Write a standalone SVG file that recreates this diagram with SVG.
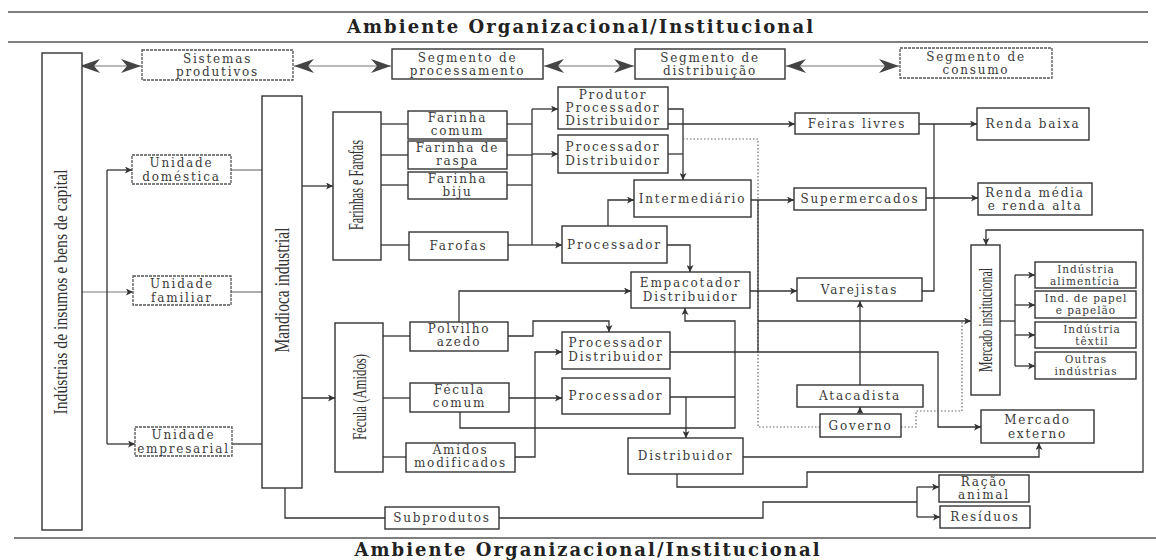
<svg xmlns="http://www.w3.org/2000/svg" width="1156" height="560" viewBox="0 0 1156 560">
  <style>
    .box { fill: #fff; stroke: #333; stroke-width: 1.4; }
    .dbox { fill: #fff; stroke: #555; stroke-width: 1.3; stroke-dasharray: 3 1; }
    .ln { fill: none; stroke: #333; stroke-width: 1.3; }
    .gl { fill: none; stroke: #777; stroke-width: 1.2; }
    .dot { fill: none; stroke: #666; stroke-width: 1.2; stroke-dasharray: 1.5 2; }
    .rule { stroke: #555; stroke-width: 1.6; }
    .t { font-family: "DejaVu Serif", serif; font-size: 12px; fill: #3a3a3a; text-anchor: middle; letter-spacing: 1.8px; }
    .s { font-family: "DejaVu Serif", serif; font-size: 10.5px; fill: #3a3a3a; text-anchor: middle; letter-spacing: 1px; }
    .v { font-family: "Liberation Serif", serif; fill: #333; text-anchor: middle; }
    .title { font-family: "DejaVu Serif", serif; font-weight: bold; font-size: 18px; fill: #222; text-anchor: middle; }
  </style>
  <defs>
    <marker id="a" viewBox="0 0 10 10" refX="10" refY="5" markerWidth="9" markerHeight="7" markerUnits="userSpaceOnUse" orient="auto">
      <path d="M0,0 L10,5 L0,10 L2.5,5 z" fill="#333"/>
    </marker>
    <marker id="big" viewBox="0 0 20 14" refX="20" refY="7" markerWidth="20" markerHeight="14" markerUnits="userSpaceOnUse" orient="auto-start-reverse">
      <path d="M0,0 L20,7 L0,14 L6,7 z" fill="#444"/>
    </marker>
  </defs>

  <!-- environment bands -->
  <g id="ambiente-topo">
    <line class="rule" x1="8" y1="12" x2="1148" y2="12"/>
    <text class="title" x="580" y="33" textLength="466" lengthAdjust="spacing">Ambiente Organizacional/Institucional</text>
    <line class="rule" x1="8" y1="42" x2="1148" y2="42"/>
  </g>
  <g id="ambiente-base">
    <line class="rule" x1="14" y1="538" x2="1156" y2="538"/>
    <text class="title" x="587" y="556" textLength="465" lengthAdjust="spacing">Ambiente Organizacional/Institucional</text>
  </g>

  <!-- connectors -->
  <g id="connectors">
    <!-- segment row -->
    <line class="gl" x1="80" y1="66" x2="141" y2="66" marker-start="url(#big)" marker-end="url(#big)"/>
    <line class="gl" x1="294" y1="66" x2="391" y2="66" marker-start="url(#big)" marker-end="url(#big)"/>
    <line class="gl" x1="544" y1="66" x2="634" y2="66" marker-start="url(#big)" marker-end="url(#big)"/>
    <line class="gl" x1="786" y1="66" x2="899" y2="66" marker-start="url(#big)" marker-end="url(#big)"/>

    <!-- inputs to production units -->
    <line class="gl" x1="82" y1="292" x2="133" y2="292" marker-end="url(#a)"/>
    <line class="ln" x1="107" y1="170" x2="107" y2="444"/>
    <line class="ln" x1="107" y1="170" x2="132" y2="170" marker-end="url(#a)"/>
    <line class="ln" x1="107" y1="444" x2="135" y2="444" marker-end="url(#a)"/>
    <line class="gl" x1="231" y1="170" x2="262" y2="170"/>
    <line class="gl" x1="231" y1="292" x2="262" y2="292"/>
    <line class="ln" x1="232" y1="444" x2="262" y2="444"/>

    <!-- mandioca branches -->
    <line class="ln" x1="302" y1="186" x2="333" y2="186" marker-end="url(#a)"/>
    <line class="ln" x1="302" y1="398" x2="335" y2="398" marker-end="url(#a)"/>
    <path class="ln" d="M285,488 V518 H385"/>
    <path class="ln" d="M499,518 H763 V502 H917"/>
    <line class="ln" x1="917" y1="487" x2="917" y2="517"/>
    <line class="ln" x1="917" y1="487" x2="939" y2="487" marker-end="url(#a)"/>
    <line class="ln" x1="917" y1="517" x2="940" y2="517" marker-end="url(#a)"/>

    <!-- farinhas -->
    <line class="ln" x1="381" y1="124" x2="408" y2="124"/>
    <line class="ln" x1="381" y1="155" x2="408" y2="155"/>
    <line class="ln" x1="381" y1="185" x2="408" y2="185"/>
    <line class="ln" x1="381" y1="245" x2="409" y2="245"/>
    <line class="ln" x1="507" y1="124" x2="532" y2="124"/>
    <line class="ln" x1="507" y1="155" x2="532" y2="155"/>
    <line class="ln" x1="507" y1="185" x2="532" y2="185"/>
    <line class="ln" x1="508" y1="245" x2="532" y2="245"/>
    <line class="ln" x1="532" y1="109" x2="532" y2="245"/>
    <line class="ln" x1="532" y1="109" x2="558" y2="109" marker-end="url(#a)"/>
    <line class="ln" x1="532" y1="154" x2="558" y2="154" marker-end="url(#a)"/>
    <line class="ln" x1="532" y1="245" x2="562" y2="245" marker-end="url(#a)"/>

    <!-- processing to distribution -->
    <path class="ln" d="M668,109 H683 V180" marker-end="url(#a)"/>
    <line class="ln" x1="668" y1="154" x2="683" y2="154"/>
    <line class="ln" x1="668" y1="124" x2="795" y2="124" marker-end="url(#a)"/>
    <path class="dot" d="M683,139 H758 V427 H820"/>
    <line class="ln" x1="751" y1="200" x2="794" y2="200" marker-end="url(#a)"/>
    <line class="ln" x1="758" y1="200" x2="758" y2="352"/>
    <line class="ln" x1="758" y1="321" x2="971" y2="321" marker-end="url(#a)"/>
    <path class="ln" d="M608,226 V200 H634" marker-end="url(#a)"/>
    <path class="ln" d="M667,245 H690 V272" marker-end="url(#a)"/>
    <path class="ln" d="M459,322 V291 H631" marker-end="url(#a)"/>
    <line class="ln" x1="750" y1="291" x2="797" y2="291" marker-end="url(#a)"/>

    <!-- fecula -->
    <line class="ln" x1="383" y1="336" x2="410" y2="336"/>
    <line class="ln" x1="383" y1="398" x2="410" y2="398"/>
    <line class="ln" x1="383" y1="457" x2="406" y2="457"/>
    <path class="ln" d="M508,336 H533 V321 H609 V332" marker-end="url(#a)"/>
    <line class="ln" x1="509" y1="398" x2="562" y2="398" marker-end="url(#a)"/>
    <path class="ln" d="M515,457 H535 V352 H562" marker-end="url(#a)"/>
    <path class="ln" d="M460,412 V428 H735 V321 H685 V308" marker-end="url(#a)"/>
    <line class="ln" x1="670" y1="397" x2="735" y2="397"/>
    <path class="ln" d="M686,397 V438" marker-end="url(#a)"/>
    <path class="ln" d="M670,352 H938 V427 H981" marker-end="url(#a)"/>
    <path class="ln" d="M743,457 H1039 V443" marker-end="url(#a)"/>
    <path class="ln" d="M677,474 V487 H807 V472 H1143 V230 H986 V245" marker-end="url(#a)"/>

    <!-- wholesale / retail -->
    <line class="ln" x1="860" y1="437" x2="860" y2="407" marker-end="url(#a)"/>
    <line class="ln" x1="860" y1="385" x2="860" y2="301" marker-end="url(#a)"/>
    <path class="dot" d="M901,427 H916 V411 H962 V321"/>
    <path class="ln" d="M922,291 H934 V124"/>
    <line class="ln" x1="919" y1="124" x2="977" y2="124" marker-end="url(#a)"/>
    <line class="ln" x1="926" y1="198" x2="978" y2="198" marker-end="url(#a)"/>

    <!-- institutional market -->
    <line class="ln" x1="1000" y1="321" x2="1015" y2="321"/>
    <line class="ln" x1="1015" y1="275" x2="1015" y2="366"/>
    <line class="ln" x1="1015" y1="275" x2="1035" y2="275" marker-end="url(#a)"/>
    <line class="ln" x1="1015" y1="305" x2="1035" y2="305" marker-end="url(#a)"/>
    <line class="ln" x1="1015" y1="335" x2="1035" y2="335" marker-end="url(#a)"/>
    <line class="ln" x1="1015" y1="366" x2="1035" y2="366" marker-end="url(#a)"/>
  </g>

  <!-- segment row -->
  <g id="sistemas-produtivos">
    <rect class="dbox" x="142" y="50" width="151" height="30"/>
    <text class="t" x="217.5" y="63">Sistemas</text>
    <text class="t" x="217.5" y="76">produtivos</text>
  </g>
  <g id="segmento-processamento">
    <rect class="box" x="392" y="49" width="151" height="30"/>
    <text class="t" x="467.5" y="62">Segmento de</text>
    <text class="t" x="467.5" y="75">processamento</text>
  </g>
  <g id="segmento-distribuicao">
    <rect class="box" x="635" y="49" width="150" height="30"/>
    <text class="t" x="710" y="62">Segmento de</text>
    <text class="t" x="710" y="75">distribuição</text>
  </g>
  <g id="segmento-consumo">
    <rect class="dbox" x="900" y="48" width="152" height="30"/>
    <text class="t" x="976" y="61">Segmento de</text>
    <text class="t" x="976" y="74">consumo</text>
  </g>

  <!-- vertical blocks -->
  <g id="industrias-insumos">
    <rect class="box" x="42" y="53" width="40" height="477"/>
    <text class="v" transform="translate(67,292) rotate(-90)" font-size="19" textLength="245" lengthAdjust="spacingAndGlyphs">Indústrias de insumos e bens de capital</text>
  </g>
  <g id="mandioca-industrial">
    <rect class="box" x="262" y="96" width="40" height="392"/>
    <text class="v" transform="translate(289,290) rotate(-90)" font-size="20" textLength="125" lengthAdjust="spacingAndGlyphs">Mandioca industrial</text>
  </g>
  <g id="farinhas-farofas">
    <rect class="box" x="333" y="112" width="48" height="148"/>
    <text class="v" transform="translate(363,185) rotate(-90)" font-size="20" textLength="90" lengthAdjust="spacingAndGlyphs">Farinhas e Farofas</text>
  </g>
  <g id="fecula-amidos">
    <rect class="box" x="335" y="323" width="48" height="149"/>
    <text class="v" transform="translate(366,397) rotate(-90)" font-size="19" textLength="86" lengthAdjust="spacingAndGlyphs">Fécula (Amidos)</text>
  </g>
  <g id="mercado-institucional">
    <rect class="box" x="971" y="245" width="29" height="150"/>
    <text class="v" transform="translate(992,320) rotate(-90)" font-size="19" textLength="104" lengthAdjust="spacingAndGlyphs">Mercado institucional</text>
  </g>

  <!-- production units -->
  <g id="unidade-domestica">
    <rect class="dbox" x="132" y="155" width="99" height="29"/>
    <text class="t" x="181.5" y="167">Unidade</text>
    <text class="t" x="181.5" y="181">doméstica</text>
  </g>
  <g id="unidade-familiar">
    <rect class="dbox" x="133" y="276" width="98" height="29"/>
    <text class="t" x="182" y="288">Unidade</text>
    <text class="t" x="182" y="302">familiar</text>
  </g>
  <g id="unidade-empresarial">
    <rect class="dbox" x="135" y="427" width="97" height="29"/>
    <text class="t" x="183.5" y="439">Unidade</text>
    <text class="t" x="183.5" y="453" letter-spacing="0.6">empresarial</text>
  </g>

  <!-- farinhas products -->
  <g id="farinha-comum">
    <rect class="box" x="408" y="111" width="99" height="28"/>
    <text class="t" x="457.5" y="122">Farinha</text>
    <text class="t" x="457.5" y="135">comum</text>
  </g>
  <g id="farinha-raspa">
    <rect class="box" x="408" y="141" width="99" height="28"/>
    <text class="t" x="457.5" y="152">Farinha de</text>
    <text class="t" x="457.5" y="165">raspa</text>
  </g>
  <g id="farinha-biju">
    <rect class="box" x="408" y="172" width="99" height="27"/>
    <text class="t" x="457.5" y="183">Farinha</text>
    <text class="t" x="457.5" y="196">biju</text>
  </g>
  <g id="farofas">
    <rect class="box" x="409" y="232" width="99" height="28"/>
    <text class="t" x="458.5" y="250">Farofas</text>
  </g>

  <!-- fecula products -->
  <g id="polvilho-azedo">
    <rect class="box" x="410" y="322" width="98" height="29"/>
    <text class="t" x="459" y="333">Polvilho</text>
    <text class="t" x="459" y="346">azedo</text>
  </g>
  <g id="fecula-comum">
    <rect class="box" x="410" y="383" width="99" height="29"/>
    <text class="t" x="459.5" y="394">Fécula</text>
    <text class="t" x="459.5" y="407">comum</text>
  </g>
  <g id="amidos-modificados">
    <rect class="box" x="406" y="443" width="109" height="29"/>
    <text class="t" x="460.5" y="454">Amidos</text>
    <text class="t" x="460.5" y="467">modificados</text>
  </g>
  <g id="subprodutos">
    <rect class="box" x="385" y="507" width="114" height="22"/>
    <text class="t" x="442" y="522">Subprodutos</text>
  </g>

  <!-- processing agents -->
  <g id="produtor-processador-distribuidor">
    <rect class="box" x="558" y="87" width="110" height="42"/>
    <text class="t" x="613" y="99">Produtor</text>
    <text class="t" x="613" y="112">Processador</text>
    <text class="t" x="613" y="125">Distribuidor</text>
  </g>
  <g id="processador-distribuidor-1">
    <rect class="box" x="558" y="135" width="110" height="38"/>
    <text class="t" x="613" y="151">Processador</text>
    <text class="t" x="613" y="165">Distribuidor</text>
  </g>
  <g id="intermediario">
    <rect class="box" x="634" y="180" width="117" height="37"/>
    <text class="t" x="692.5" y="203">Intermediário</text>
  </g>
  <g id="processador-1">
    <rect class="box" x="562" y="226" width="105" height="37"/>
    <text class="t" x="614.5" y="249">Processador</text>
  </g>
  <g id="empacotador-distribuidor">
    <rect class="box" x="631" y="272" width="119" height="36"/>
    <text class="t" x="690.5" y="287">Empacotador</text>
    <text class="t" x="690.5" y="301">Distribuidor</text>
  </g>
  <g id="processador-distribuidor-2">
    <rect class="box" x="562" y="332" width="108" height="37"/>
    <text class="t" x="616" y="347">Processador</text>
    <text class="t" x="616" y="361">Distribuidor</text>
  </g>
  <g id="processador-2">
    <rect class="box" x="562" y="378" width="108" height="36"/>
    <text class="t" x="616" y="400">Processador</text>
  </g>
  <g id="distribuidor">
    <rect class="box" x="628" y="438" width="115" height="36"/>
    <text class="t" x="685.5" y="460">Distribuidor</text>
  </g>

  <!-- distribution channels -->
  <g id="feiras-livres">
    <rect class="box" x="795" y="113" width="124" height="21"/>
    <text class="t" x="857" y="128">Feiras livres</text>
  </g>
  <g id="supermercados">
    <rect class="box" x="794" y="188" width="132" height="22"/>
    <text class="t" x="860" y="203">Supermercados</text>
  </g>
  <g id="varejistas">
    <rect class="box" x="797" y="278" width="125" height="23"/>
    <text class="t" x="859.5" y="294">Varejistas</text>
  </g>
  <g id="atacadista">
    <rect class="box" x="797" y="385" width="126" height="22"/>
    <text class="t" x="860" y="400">Atacadista</text>
  </g>
  <g id="governo">
    <rect class="box" x="820" y="414" width="81" height="23"/>
    <text class="t" x="860.5" y="430">Governo</text>
  </g>

  <!-- consumers -->
  <g id="renda-baixa">
    <rect class="box" x="977" y="108" width="112" height="32"/>
    <text class="t" x="1033" y="128">Renda baixa</text>
  </g>
  <g id="renda-media-alta">
    <rect class="box" x="978" y="183" width="114" height="32"/>
    <text class="t" x="1035" y="197">Renda média</text>
    <text class="t" x="1035" y="210">e renda alta</text>
  </g>
  <g id="industria-alimenticia">
    <rect class="box" x="1035" y="262" width="101" height="26"/>
    <text class="s" x="1086" y="273">Indústria</text>
    <text class="s" x="1085" y="285">alimentícia</text>
  </g>
  <g id="industria-papel">
    <rect class="box" x="1035" y="291" width="101" height="27"/>
    <text class="s" x="1086" y="302">Ind. de papel</text>
    <text class="s" x="1086" y="314">e papelão</text>
  </g>
  <g id="industria-textil">
    <rect class="box" x="1035" y="322" width="101" height="26"/>
    <text class="s" x="1092" y="333">Indústria</text>
    <text class="s" x="1092" y="345">têxtil</text>
  </g>
  <g id="outras-industrias">
    <rect class="box" x="1035" y="352" width="101" height="27"/>
    <text class="s" x="1086" y="363">Outras</text>
    <text class="s" x="1086" y="375">indústrias</text>
  </g>
  <g id="mercado-externo">
    <rect class="box" x="981" y="410" width="113" height="33"/>
    <text class="t" x="1037.5" y="424">Mercado</text>
    <text class="t" x="1037.5" y="438">externo</text>
  </g>
  <g id="racao-animal">
    <rect class="box" x="939" y="475" width="90" height="27"/>
    <text class="t" x="984" y="486">Ração</text>
    <text class="t" x="984" y="499">animal</text>
  </g>
  <g id="residuos">
    <rect class="box" x="940" y="506" width="90" height="22"/>
    <text class="t" x="985" y="521">Resíduos</text>
  </g>
</svg>
